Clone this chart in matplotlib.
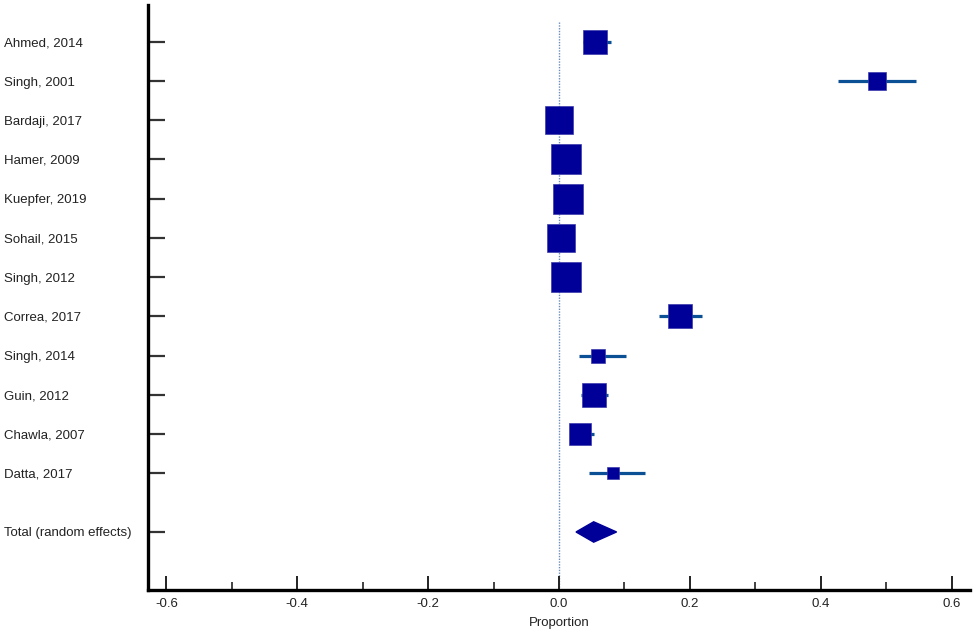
import matplotlib.pyplot as plt
import numpy as np

plt.rcParams['font.family'] = ['Liberation Sans', 'DejaVu Sans']

# ======================
# DATA
# ======================

studies = [
    'Ahmed, 2014', 'Singh, 2001', 'Bardaji, 2017', 'Hamer, 2009',
    'Kuepfer, 2019', 'Sohail, 2015', 'Singh, 2012', 'Correa, 2017',
    'Singh, 2014', 'Guin, 2012', 'Chawla, 2007', 'Datta, 2017'
]
proportion = [0.055, 0.486, 0.000, 0.010, 0.013, 0.003, 0.011, 0.185,
              0.059, 0.053, 0.032, 0.082]
ci_low = [0.036, 0.426, -0.010, 0.000, 0.003, -0.007, 0.001, 0.153,
          0.031, 0.033, 0.018, 0.046]
ci_high = [0.079, 0.546, 0.010, 0.020, 0.023, 0.013, 0.021, 0.219,
           0.102, 0.075, 0.054, 0.132]
weight = [7.7, 4.6, 11.4, 12.6, 12.6, 11.7, 12.6, 7.7, 2.9, 7.7, 6.5, 1.9]

total_label = 'Total (random effects)'
total_est = 0.053
total_low = 0.026
total_high = 0.088

xticks = [-0.6, -0.4, -0.2, 0.0, 0.2, 0.4, 0.6]

# ======================
# PLOT
# ======================

fig = plt.figure(figsize=(9.76, 6.32), dpi=100)
ax = fig.add_axes([148 / 976, 42 / 632, 822 / 976, 585 / 632])

y = np.arange(len(studies))
y_total = len(studies) + 0.5

# reference line at zero
ax.vlines(0, -0.5, 14, colors='#6a8cbc', linestyles=(0, (1, 1)), linewidth=1.0, zorder=1)

# confidence intervals
ax.hlines(y, ci_low, ci_high, colors='#0b4f94', linewidth=2.3, zorder=2)

# weighted squares
for yi, p, w in zip(y, proportion, weight):
    side_px = 8.375 * np.sqrt(w)
    ax.plot(p, yi, marker='s', markersize=side_px * 0.72,
            color='#000099', markeredgecolor='#3a3aaa', markeredgewidth=0.5, zorder=3)

# pooled diamond
h = 0.26
ax.fill([total_low, total_est, total_high, total_est],
        [y_total, y_total - h, y_total, y_total + h],
        color='#000099', zorder=3)

ax.set_xlim(-0.628, 0.628)
ax.set_ylim(13.98, -0.94)

ax.set_yticks(list(y) + [y_total])
ax.set_yticklabels(studies + [total_label], fontsize=9.5, color='#222222')
for lab in ax.get_yticklabels():
    lab.set_horizontalalignment('left')
ax.tick_params(axis='y', direction='in', length=12, width=1.6,
               color='#333333', pad=104)

ax.set_xticks(xticks)
ax.set_xticklabels(['%.1f' % t for t in xticks], fontsize=9.5, color='#222222')
ax.set_xticks(np.arange(-0.5, 0.6, 0.2), minor=True)
ax.tick_params(axis='x', which='major', direction='in', length=10, width=1.4,
               color='#222222', pad=6)
ax.tick_params(axis='x', which='minor', direction='in', length=5.5, width=1.2,
               color='#222222')

ax.set_xlabel('Proportion', fontsize=9.5, color='#222222', labelpad=5)

for side in ['top', 'right']:
    ax.spines[side].set_visible(False)
for side in ['left', 'bottom']:
    ax.spines[side].set_linewidth(2.4)
    ax.spines[side].set_color('black')

fig.savefig('out.png', dpi=100)
plt.close()
